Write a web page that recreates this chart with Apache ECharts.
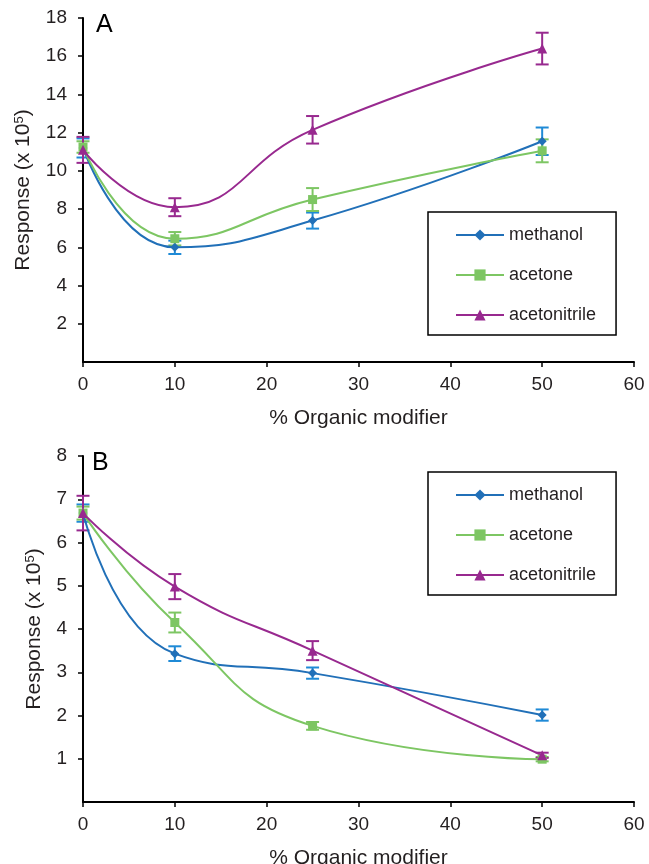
<!DOCTYPE html>
<html>
<head>
<meta charset="utf-8">
<style>
  html, body { margin: 0; padding: 0; background: #ffffff; }
  #chart { width: 649px; height: 864px; }
</style>
<script src="https://cdn.jsdelivr.net/npm/echarts@6/dist/echarts.min.js"></script>
</head>
<body>
<div id="chart"></div>
<script>
// % organic modifier levels
const modifierLevels = [0, 10, 25, 50];
const xTicks = [0, 10, 20, 30, 40, 50, 60];

// Panel A: response (x 10^5) and standard deviation
const methanolA = [11.2, 6.0, 7.4, 11.55];
const methanolAErr = [0.5, 0.35, 0.42, 0.72];
const acetoneA = [11.25, 6.45, 8.5, 11.05];
const acetoneAErr = [0.3, 0.35, 0.6, 0.6];
const acetonitrileA = [11.1, 8.1, 12.15, 16.4];
const acetonitrileAErr = [0.68, 0.47, 0.72, 0.83];

// Panel B: response (x 10^5) and standard deviation
const methanolB = [6.68, 3.43, 2.98, 2.01];
const methanolBErr = [0.2, 0.17, 0.13, 0.13];
const acetoneB = [6.68, 4.15, 1.76, 0.99];
const acetoneBErr = [0.15, 0.23, 0.09, 0.05];
const acetonitrileB = [6.68, 4.98, 3.5, 1.08];
const acetonitrileBErr = [0.4, 0.29, 0.22, 0.06];

const seriesNames = ['methanol', 'acetone', 'acetonitrile'];

const FONT = 'Liberation Sans, Arial, sans-serif';
const TEXT = '#231f20';
const styles = {
  methanol: { line: '#2170b8', err: '#1f8ad6', symbol: 'diamond', size: 9 },
  acetone: { line: '#7dc663', err: '#7dc663', symbol: 'rect', size: 9 },
  acetonitrile: { line: '#98298f', err: '#98298f', symbol: 'triangle', size: 10 }
};

const panels = [
  { values: [methanolA, acetoneA, acetonitrileA], errs: [methanolAErr, acetoneAErr, acetonitrileAErr] },
  { values: [methanolB, acetoneB, acetonitrileB], errs: [methanolBErr, acetoneBErr, acetonitrileBErr] }
];

function pairs(ys) {
  return modifierLevels.map((x, i) => [x, ys[i]]);
}

// vertical error bar with caps
function errorBarRenderer(color) {
  return function (params, api) {
    const x = api.value(0);
    const lo = api.coord([x, api.value(1)]);
    const hi = api.coord([x, api.value(2)]);
    const cap = 6.5;
    const st = { stroke: color, lineWidth: 2 };
    return {
      type: 'group',
      children: [
        { type: 'line', shape: { x1: lo[0], y1: lo[1], x2: hi[0], y2: hi[1] }, style: st },
        { type: 'line', shape: { x1: lo[0] - cap, y1: lo[1], x2: lo[0] + cap, y2: lo[1] }, style: st },
        { type: 'line', shape: { x1: hi[0] - cap, y1: hi[1], x2: hi[0] + cap, y2: hi[1] }, style: st }
      ]
    };
  };
}

const series = [];
panels.forEach((p, gi) => {
  seriesNames.forEach((name, si) => {
    const s = styles[name];
    const vals = p.values[si];
    const errs = p.errs[si];
    series.push({
      type: 'custom',
      name: name + ' error',
      xAxisIndex: gi, yAxisIndex: gi,
      renderItem: errorBarRenderer(s.err),
      data: modifierLevels.map((x, i) => [x, vals[i] - errs[i], vals[i] + errs[i]]),
      z: 2,
      silent: true
    });
  });
  seriesNames.forEach((name, si) => {
    const s = styles[name];
    series.push({
      type: 'line',
      name: name,
      xAxisIndex: gi, yAxisIndex: gi,
      data: pairs(p.values[si]),
      smooth: 0.5,
      symbol: s.symbol,
      symbolSize: s.size,
      showAllSymbol: true,
      lineStyle: { color: s.line, width: 2 },
      itemStyle: { color: s.line },
      z: 3,
      animation: false
    });
  });
});

function xAxis(gi) {
  return {
    type: 'value', gridIndex: gi, min: 0, max: 60, interval: 10,
    name: '% Organic modifier', nameLocation: 'middle', nameGap: 46,
    nameTextStyle: { fontFamily: FONT, fontSize: 21, color: TEXT },
    axisLine: { lineStyle: { color: '#000', width: 2 } },
    axisTick: { show: true, length: 5, lineStyle: { color: '#000', width: 1.5 } },
    axisLabel: { fontFamily: FONT, fontSize: 19, color: TEXT, margin: 13 },
    splitLine: { show: false }
  };
}

function yAxis(gi, max, interval, gap) {
  return {
    type: 'value', gridIndex: gi, min: 0, max: max, interval: interval,
    name: 'Response (x 10{sup|5})', nameLocation: 'middle', nameGap: gap, nameRotate: 90,
    nameTextStyle: {
      fontFamily: FONT, fontSize: 21, color: TEXT,
      rich: { sup: { fontFamily: FONT, fontSize: 13, color: TEXT, verticalAlign: 'top', padding: [0, 0, 8, 0] } }
    },
    axisLine: { show: true, lineStyle: { color: '#000', width: 2 } },
    axisTick: { show: true, length: 5, lineStyle: { color: '#000', width: 1.5 } },
    axisLabel: { fontFamily: FONT, fontSize: 19, color: TEXT, margin: 16, showMinLabel: false },
    splitLine: { show: false }
  };
}

function legend(top) {
  return {
    orient: 'vertical', left: 428, top: top,
    data: seriesNames,
    itemWidth: 48, itemHeight: 14, itemGap: 22,
    padding: [14, 20, 11, 27],
    borderColor: '#000', borderWidth: 1.5,
    textStyle: { fontFamily: FONT, fontSize: 18, color: TEXT },
    selectedMode: false
  };
}

const chart = echarts.init(document.getElementById('chart'), null, { renderer: 'canvas' });
chart.setOption({
  backgroundColor: '#ffffff',
  animation: false,
  grid: [
    { left: 83, right: 15, top: 18, bottom: 502, containLabel: false, outerBoundsMode: 'none' },
    { left: 83, right: 15, top: 456, bottom: 62, containLabel: false, outerBoundsMode: 'none' }
  ],
  xAxis: [xAxis(0), xAxis(1)],
  yAxis: [yAxis(0, 18, 2, 49), yAxis(1, 8, 1, 38)],
  legend: [legend(212), legend(472)],
  graphic: [
    { type: 'text', left: 96, top: 13, style: { text: 'A', font: '25px ' + FONT, fill: '#000' } },
    { type: 'text', left: 92, top: 451, style: { text: 'B', font: '25px ' + FONT, fill: '#000' } }
  ],
  series: series
});
</script>
</body>
</html>
